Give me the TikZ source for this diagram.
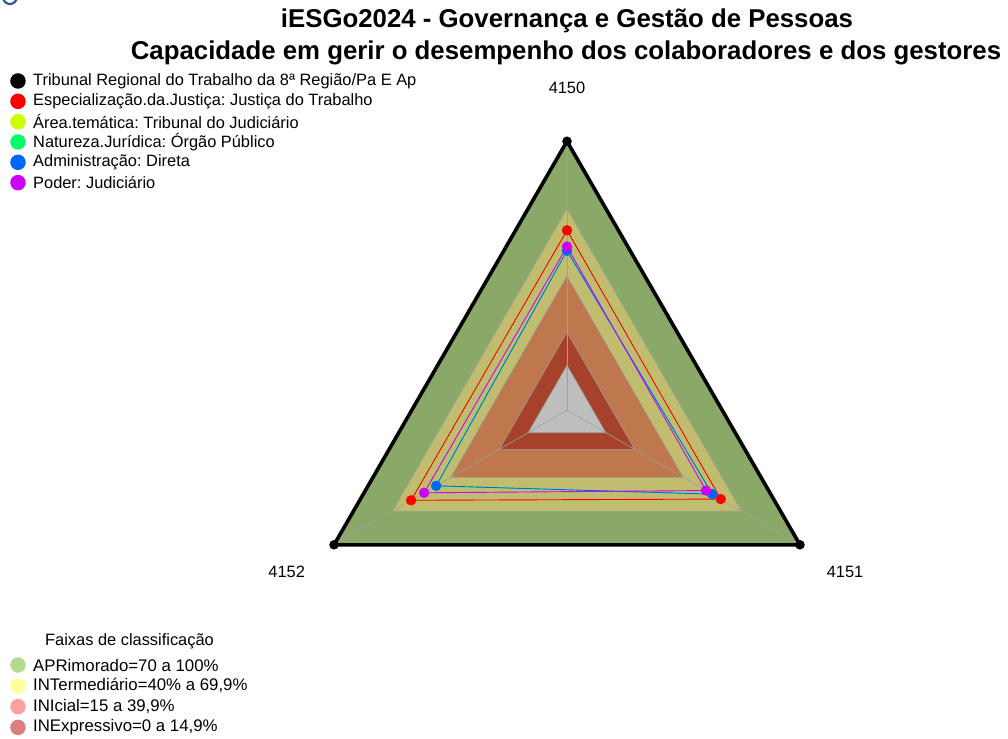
\documentclass[tikz,border=0pt]{standalone}
\usepackage{fontspec}
\setmainfont{Liberation Sans}
\usetikzlibrary{positioning}
\frenchspacing

\definecolor{aprband}{RGB}{138,168,104}
\definecolor{intband}{RGB}{192,190,110}
\definecolor{iniband}{RGB}{191,120,78}
\definecolor{inexband}{RGB}{166,65,43}
\definecolor{zeroband}{RGB}{190,190,190}
\definecolor{ygcol}{RGB}{204,255,0}
\definecolor{grncol}{RGB}{0,255,102}
\definecolor{blucol}{RGB}{0,102,255}
\definecolor{purcol}{RGB}{204,0,255}
\definecolor{aprleg}{RGB}{180,218,140}
\definecolor{intleg}{RGB}{255,255,155}
\definecolor{inileg}{RGB}{255,160,160}
\definecolor{inexleg}{RGB}{218,128,128}
\definecolor{logoblue}{RGB}{47,85,151}

\tikzstyle{band} = [draw=gray!75, line width=0.6pt]
\tikzstyle{axis} = [draw=gray!75, line width=0.6pt]
\tikzstyle{series} = [line width=0.9pt]
\tikzstyle{legdot} = [circle, inner sep=0pt, minimum size=15.5pt]
\tikzstyle{legtext} = [anchor=west, inner sep=0pt, font=\fontsize{16.4}{19}\selectfont]
\tikzstyle{bandtext} = [anchor=west, inner sep=0pt, font=\fontsize{16.8}{19}\selectfont]
\tikzstyle{axlabel} = [inner sep=0pt, font=\fontsize{16.4}{19}\selectfont]
\tikzstyle{titletext} = [anchor=base, inner sep=0pt, font=\fontsize{25.8}{30}\selectfont\bfseries]

% radius of a value on the chart (inner sixth is the zero ring)
\newcommand{\rad}[1]{44.83+2.2417*#1}

\begin{document}
\begin{tikzpicture}[x=1pt, y=1pt]
   \useasboundingbox (-567,-327.7) rectangle (441,410.3);

   % cut-off logo letter
   \draw[logoblue, line width=2.2pt] (-557,413.3) ++(200:7) arc (200:340:7);

   % titles
   \node[titletext] (t1) at (0,382.3) {iESGo2024 - Governança e Gestão de Pessoas};
   \node[titletext] (t2) at (-1,350.3) {Capacidade em gerir o desempenho dos colaboradores e dos gestores};

   % bands
   \coordinate (O) at (0,0);
   \foreach \v/\col in {100/aprband, 69.9/intband, 39.9/iniband, 14.9/inexband, 0/zeroband}
      \filldraw[band, fill=\col] (90:{\rad{\v}}) -- (-30:{\rad{\v}}) -- (210:{\rad{\v}}) -- cycle;

   % axes
   \coordinate (v4150) at (90:269);
   \coordinate (v4151) at (-30:269);
   \coordinate (v4152) at (210:269);
   \foreach \a in {4150,4151,4152}
      \draw[axis] (O) -- (v\a);

   \node[axlabel] (l4150) at (0,322) {4150};
   \node[axlabel] (l4151) at (278,-161.4) {4151};
   \node[axlabel] (l4152) at (-280.3,-161.4) {4152};

   % series
   \draw[line width=3.6pt, line join=round] (v4150) -- (v4151) -- (v4152) -- cycle;
   \foreach \a in {4150,4151,4152}
      \fill (v\a) circle (4.8);
   \foreach \col/\a/\b/\c in {red/60.3/59.2/60.3, ygcol/51.5/54.5/47.8, grncol/51.3/54.6/47.6, blucol/51.2/54.8/47.4, purcol/53/51.6/53.6}{
      \draw[series, \col] (90:{\rad{\a}}) -- (-30:{\rad{\b}}) -- (210:{\rad{\c}}) -- cycle;
      \foreach \ang/\val in {90/\a, -30/\b, 210/\c}
         \fill[\col] (\ang:{\rad{\val}}) circle (5.2);
   }

   % legend of series
   \foreach \i/\col/\txt in {0/black/{Tribunal Regional do Trabalho da 8ª Região/Pa E Ap},
                             1/red/{Especialização.da.Justiça: Justiça do Trabalho},
                             2/ygcol/{Área.temática: Tribunal do Judiciário},
                             3/grncol/{Natureza.Jurídica: Órgão Público},
                             4/blucol/{Administração: Direta},
                             5/purcol/{Poder: Judiciário}}{
      \node[legdot, fill=\col] (sd\i) at (-549,{329.3-20.33*\i}) {};
      \node[legtext] (st\i) at (-534,{329.3-20.33*\i}) {\txt};
   }

   % legend of bands
   \node[axlabel, anchor=west] (ftitle) at (-522,-230.7) {Faixas de classificação};
   \foreach \i/\col/\txt in {0/aprleg/{APRimorado=70 a 100\%},
                             1/intleg/{INTermediário=40\% a 69,9\%},
                             2/inileg/{INIcial=15 a 39,9\%},
                             3/inexleg/{INExpressivo=0 a 14,9\%}}{
      \node[legdot, fill=\col] (fd\i) at (-549,{-254.7-20.8*\i}) {};
      \node[bandtext] (ft\i) at (-534,{-254.7-20.8*\i}) {\txt};
   }
\end{tikzpicture}
\end{document}
